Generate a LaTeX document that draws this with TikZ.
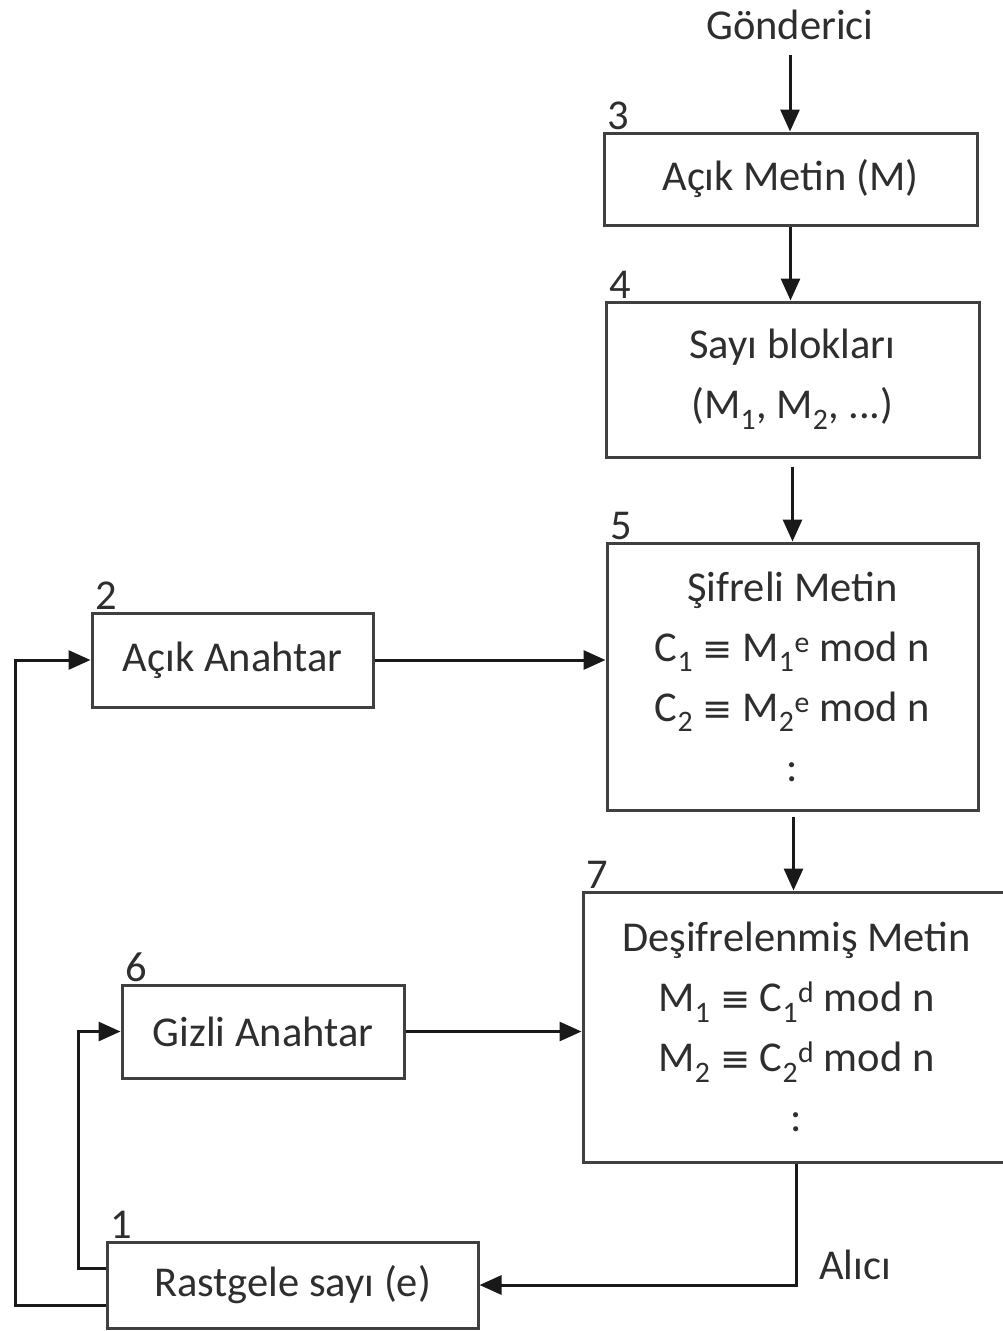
\documentclass[tikz,border=0pt]{standalone}
\usepackage{fontspec}
\setmainfont{Carlito}
\newfontfamily\symfont{DejaVu Sans}
\usetikzlibrary{arrows.meta}
\newcommand{\congr}{{\symfont\fontsize{36}{60}\selectfont ≡}}
\begin{document}
\begin{tikzpicture}[x=1pt,y=-1pt,
  every node/.style={font=\fontsize{42.5}{60}\selectfont, text=black!82},
  box/.style={draw=black!75, line width=3pt, align=center, inner sep=0pt},
  num/.style={anchor=south west, inner sep=2pt, xshift=3pt},
  arr/.style={draw=black!90, line width=3pt, -{Triangle[length=22pt,width=19pt]}}]
\useasboundingbox (0,0) rectangle (1002,1331);

% sender and plaintext chain
\node (snd) at (790,25) {Gönderici};
\node[box, minimum width=373pt, minimum height=92pt] (b3) at (790.5,179) {Açık Metin (M)};
\node[box, minimum width=373pt, minimum height=155pt] (b4) at (792.5,379.5)
  {Sayı blokları\\(M\textsubscript{1}, M\textsubscript{2}, ...)};
\node[box, minimum width=371pt, minimum height=267pt] (b5) at (792.5,676.5)
  {Şifreli Metin\\C\textsubscript{1} \congr{} M\textsubscript{1}\textsuperscript{e} mod n\\C\textsubscript{2} \congr{} M\textsubscript{2}\textsuperscript{e} mod n\\:};
\node[box, minimum width=427pt, minimum height=270pt] (b7) at (796.5,1027)
  {Deşifrelenmiş Metin\\M\textsubscript{1} \congr{} C\textsubscript{1}\textsuperscript{d} mod n\\M\textsubscript{2} \congr{} C\textsubscript{2}\textsuperscript{d} mod n\\:};

% keys and random number
\node[box, minimum width=281pt, minimum height=94pt] (b2) at (232.5,660) {Açık Anahtar};
\node[box, minimum width=282pt, minimum height=93pt] (b6) at (263,1031.5) {Gizli Anahtar};
\node[box, minimum width=371pt, minimum height=86pt] (b1) at (292.5,1285) {Rastgele sayı (e)};
\node (rcv) at (855,1265) {Alıcı};

% step numbers
\node[num] (n3) at (b3.north west) {3};
\node[num] (n4) at (b4.north west) {4};
\node[num] (n5) at (b5.north west) {5};
\node[num] (n2) at (b2.north west) {2};
\node[num] (n7) at (b7.north west) {7};
\node[num] (n6) at (b6.north west) {6};
\node[num] (n1) at (b1.north west) {1};

% connectors
\draw[arr, shorten <=12pt] (snd.south) -- (snd.south |- b3.north);
\draw[arr] (b3.south) -- (b3.south |- b4.north);
\draw[arr, shorten <=8pt] (b4.south) -- (b4.south |- b5.north);
\draw[arr, shorten <=5pt] ([xshift=1pt]b5.south) -- ([xshift=1pt]b5.south |- b7.north);
\draw[arr] (b2.east) -- (b2.east -| b5.west);
\draw[arr] (b6.east) -- (b6.east -| b7.west);
\draw[arr] (b7.south) |- (b1.east);
\draw[arr] ([yshift=17pt]b1.west) -- ++(-27,0) |- (b6.west);
\draw[arr] ([yshift=-20pt]b1.west) -- ++(-90,0) |- (b2.west);
\end{tikzpicture}
\end{document}
